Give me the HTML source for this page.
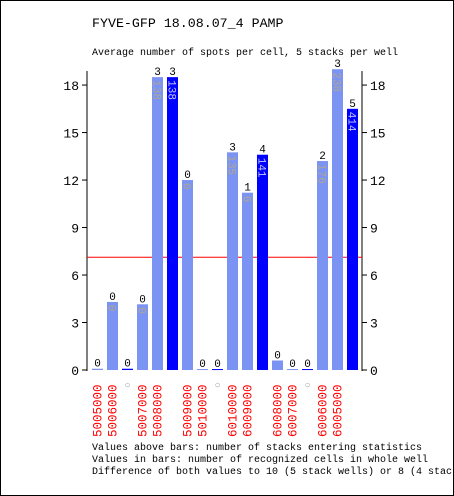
<!DOCTYPE html>
<html><head><meta charset="utf-8"><style>
html,body{margin:0;padding:0;background:#fff}
#c{position:relative;width:452px;height:494px;border:1px solid #000;overflow:hidden}
</style></head><body>
<div id="c">
<svg id="s" width="452" height="494" xmlns="http://www.w3.org/2000/svg" font-family="Liberation Mono, DejaVu Sans Mono, monospace">
<text x="91" y="26" font-size="13.3">FYVE-GFP 18.08.07_4 PAMP</text>
<text x="91" y="54" font-size="10">Average number of spots per cell, 5 stacks per well</text>
<g id="axes"></g>
<g id="bars"></g>
<g id="xl"></g>
<text x="91" y="449" font-size="10">Values above bars: number of stacks entering statistics</text>
<text x="91" y="461" font-size="10">Values in bars: number of recognized cells in whole well</text>
<text x="91" y="473" font-size="10">Difference of both values to 10 (5 stack wells) or 8 (4 stack wells)</text>
</svg>
</div>
<script>
const categories=["5005000","5006000","○","5007000","5008000","","5009000","5010000","○","6010000","6009000","","6008000","6007000","○","6006000","6005000",""];
const values=[0.08,4.3,0.08,4.15,18.5,18.5,12.0,0.06,0.06,13.75,11.2,13.6,0.6,0.06,0.06,13.2,19.0,16.5];
const dark=[0,0,1,0,0,1,0,0,1,0,0,1,0,0,1,0,0,1];
const topLabels=["0","0","0","0","3","3","0","0","0","3","1","4","0","0","0","2","3","5"];
const inLabels=["","0","","0","138","138","0","","","135","6","141","","","","176","238","414"];
const yTicks=[0,3,6,9,12,15,18];
const refValue=7.12;
const NS="http://www.w3.org/2000/svg";
const y0=369,pxPer=15.83,left=86,right=361,x0=91,slot=15,bw=11;
const Y=v=>y0-v*pxPer, X=i=>x0+i*slot;
function mk(t,a,p){const e=document.createElementNS(NS,t);for(const k in a)e.setAttribute(k,a[k]);if(p)p.appendChild(e);return e;}
const ax=document.getElementById('axes'),bg=document.getElementById('bars'),xl=document.getElementById('xl');
let e=mk('line',{x1:left,y1:70,x2:left,y2:y0+1,stroke:'#000'},ax);

e=mk('line',{x1:right,y1:70,x2:right,y2:y0+1,stroke:'#000'},ax);

yTicks.forEach(t=>{const y=Y(t);
 mk('line',{x1:left-5,y1:y,x2:left,y2:y,stroke:'#000'},ax);
 mk('line',{x1:right,y1:y,x2:right+5,y2:y,stroke:'#000'},ax);
 e=mk('text',{x:left-8,y:y+5,'font-size':13,'text-anchor':'end'},ax);e.textContent=t;
 
 e=mk('text',{x:right+8,y:y+5,'font-size':13},ax);e.textContent=t;
 
});
values.forEach((v,i)=>{const x=X(i),y=Y(v);
 e=mk('rect',{x:x,y:y,width:bw,height:Math.max(1,y0-y),fill:dark[i]?'#0000ff':'#7b93f2'},bg);
 
 e=mk('text',{x:x+bw/2,y:y-2,'font-size':11,'text-anchor':'middle'},bg);e.textContent=topLabels[i];
 
 if(inLabels[i]){e=mk('text',{x:0,y:0,'font-size':11,fill:dark[i]?'#c8c8ff':'#b0a890',transform:`translate(${x+1.5},${y+3}) rotate(90)`},bg);e.textContent=inLabels[i];
 }
 if(categories[i]){
  if(categories[i]==='○'){e=mk('text',{x:x+bw/2,y:y0+18,'font-size':10,fill:'#999','text-anchor':'middle'},xl);}
  else{e=mk('text',{x:0,y:0,'font-size':12.5,fill:'#ff0000',transform:`translate(${x+bw/2+4},${y0+67}) rotate(-90)`},xl);}
  e.textContent=categories[i];
  
 }
});
e=mk('line',{x1:left,y1:Y(refValue),x2:right,y2:Y(refValue),stroke:'#ff0000'},ax);

</script>
</body></html>
